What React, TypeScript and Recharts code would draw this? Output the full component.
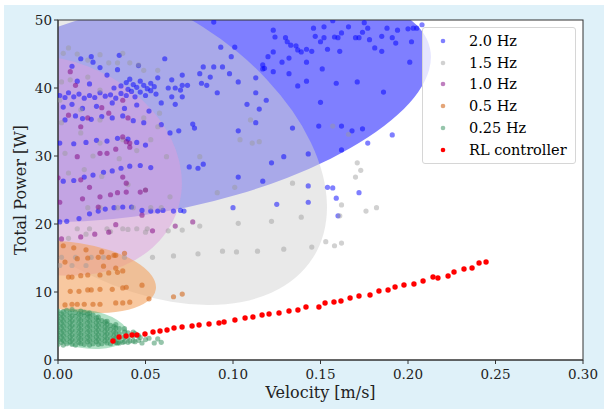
import React from "react";
import * as Recharts from "recharts";
import {
  ScatterChart,
  Scatter,
  XAxis,
  YAxis,
  CartesianGrid,
  Customized,
  Legend,
} from "recharts";

type Pt = [number, number];

// 2.0 Hz runs
const hz20: Pt[] = [
  [0.123, 48.5], [0.124, 47.5], [0.13, 47.4], [0.131, 46.8], [0.133, 46.3], [0.136, 46.2], [0.137, 45.6],
  [0.139, 45.3], [0.142, 45.7], [0.145, 45.4], [0.146, 48.8], [0.147, 47.6], [0.15, 46.8], [0.152, 49.0],
  [0.152, 47.4], [0.154, 45.7], [0.157, 49.9], [0.158, 47.5], [0.16, 47.4], [0.161, 45.4], [0.162, 48.1],
  [0.166, 49.0], [0.17, 47.4], [0.172, 47.4], [0.174, 48.2], [0.175, 49.6], [0.177, 48.8], [0.178, 47.1],
  [0.181, 45.9], [0.185, 45.4], [0.185, 47.6], [0.188, 48.8], [0.191, 47.4], [0.194, 48.5], [0.193, 46.6],
  [0.2, 48.7], [0.202, 46.8], [0.203, 48.8], [0.205, 48.8], [0.208, 49.3], [0.201, 43.8], [0.12, 44.6],
  [0.123, 45.3], [0.128, 43.8], [0.132, 44.4], [0.117, 43.4], [0.118, 42.9], [0.123, 42.4], [0.132, 42.1],
  [0.142, 43.8], [0.151, 42.8], [0.137, 40.3], [0.142, 41.0], [0.159, 40.7], [0.171, 40.9], [0.186, 39.4],
  [0.15, 37.9], [0.149, 34.4], [0.162, 34.4], [0.168, 33.7], [0.174, 34.0], [0.191, 33.1], [0.177, 31.9],
  [0.162, 30.9], [0.143, 30.3], [0.143, 25.6], [0.154, 25.4], [0.157, 25.3], [0.172, 24.6], [0.159, 23.8],
  [0.089, 49.7], [0.093, 46.0], [0.101, 46.0], [0.099, 44.6], [0.061, 44.3], [0.083, 43.1], [0.089, 43.1],
  [0.094, 43.1], [0.081, 42.1], [0.087, 41.6], [0.098, 42.1], [0.103, 40.9], [0.082, 40.7], [0.085, 40.4],
  [0.091, 39.3], [0.057, 41.5], [0.065, 41.2], [0.071, 41.9], [0.071, 40.4], [0.067, 40.0], [0.063, 40.0],
  [0.07, 39.7], [0.074, 40.4], [0.065, 38.7], [0.059, 37.8], [0.071, 38.7], [0.067, 37.6], [0.108, 37.6],
  [0.113, 39.3], [0.115, 36.9], [0.119, 38.2], [0.117, 42.8], [0.113, 41.5], [0.103, 33.7], [0.113, 34.9],
  [0.077, 34.7], [0.078, 34.1], [0.069, 33.7], [0.064, 33.4], [0.134, 34.1], [0.059, 34.6], [0.075, 28.4],
  [0.08, 28.2], [0.083, 28.8], [0.122, 29.0], [0.129, 29.9], [0.103, 26.9], [0.117, 26.3], [0.125, 22.9],
  [0.143, 23.2], [0.1, 22.4], [0.057, 21.9], [0.066, 21.9], [0.072, 21.9], [0.16, 21.2],
  [0.001, 38.9], [0.004, 38.6], [0.006, 39.3], [0.009, 38.7], [0.012, 39.1], [0.015, 38.5], [0.018, 38.9],
  [0.021, 38.6], [0.024, 39.3], [0.027, 38.8], [0.03, 39.0], [0.033, 38.5], [0.036, 39.2], [0.039, 38.9],
  [0.042, 39.5], [0.044, 38.7], [0.047, 39.4], [0.05, 38.9], [0.053, 39.6], [0.056, 39.1], [0.036, 40.3],
  [0.039, 40.8], [0.041, 41.3], [0.043, 40.5], [0.045, 40.1], [0.047, 41.0], [0.049, 40.4], [0.051, 39.9],
  [0.053, 40.7], [0.055, 40.2], [0.04, 39.8], [0.032, 40.0], [0.018, 40.6], [0.011, 41.0], [0.028, 41.9],
  [0.034, 42.7], [0.02, 43.8], [0.013, 44.3], [0.019, 44.6], [0.035, 44.8], [0.024, 43.0], [0.046, 43.3],
  [0.008, 43.2], [0.003, 37.2], [0.008, 37.6], [0.014, 37.0], [0.022, 37.3], [0.031, 37.8], [0.038, 37.0],
  [0.045, 37.5], [0.052, 36.6], [0.004, 35.3], [0.01, 35.9], [0.014, 35.5], [0.019, 35.4], [0.025, 35.8],
  [0.031, 35.6], [0.037, 35.9], [0.043, 35.2], [0.049, 34.9], [0.001, 31.9], [0.009, 31.8], [0.016, 32.0],
  [0.022, 32.3], [0.028, 32.2], [0.034, 32.6], [0.04, 32.5], [0.045, 32.0], [0.05, 31.6], [0.003, 26.3],
  [0.009, 26.4], [0.015, 26.9], [0.02, 27.2], [0.026, 27.6], [0.031, 27.8], [0.036, 28.2], [0.041, 28.5],
  [0.047, 28.6], [0.053, 28.3], [0.001, 20.3], [0.005, 20.4], [0.012, 20.8], [0.018, 21.5], [0.023, 21.9],
  [0.027, 22.2], [0.032, 22.4], [0.037, 22.5], [0.042, 22.5], [0.048, 22.0], [0.053, 21.9], [0.06, 22.0],
  [0.07, 22.0],
];

// 1.5 Hz runs
const hz15: Pt[] = [
  [0.003, 45.1], [0.006, 45.9], [0.011, 45.0], [0.017, 44.1], [0.024, 44.9], [0.029, 43.7], [0.034, 43.7],
  [0.037, 45.1], [0.041, 43.7], [0.046, 43.4], [0.049, 42.6], [0.057, 42.6], [0.017, 41.6], [0.007, 41.2],
  [0.024, 39.7], [0.002, 40.9], [0.001, 38.2], [0.002, 34.9], [0.013, 36.8], [0.024, 35.3], [0.049, 35.6],
  [0.058, 36.3], [0.057, 34.3], [0.013, 33.4], [0.024, 31.9], [0.037, 32.4], [0.053, 32.4], [0.062, 29.9],
  [0.081, 29.9], [0.091, 24.6], [0.104, 32.4], [0.11, 35.3], [0.111, 31.9], [0.115, 32.1], [0.101, 25.4],
  [0.134, 26.0], [0.157, 34.4], [0.166, 33.2], [0.171, 29.0], [0.173, 27.9], [0.17, 26.9], [0.162, 22.8],
  [0.176, 21.9], [0.182, 22.4], [0.161, 21.2], [0.139, 21.0], [0.122, 20.4], [0.103, 20.1], [0.071, 19.1],
  [0.081, 19.7], [0.063, 19.0], [0.066, 15.3], [0.08, 15.6], [0.094, 16.0], [0.102, 15.9], [0.114, 16.0],
  [0.129, 16.3], [0.145, 16.6], [0.153, 17.4], [0.158, 16.8], [0.162, 17.2], [0.054, 15.1],
  [0.017, 22.4], [0.024, 22.4], [0.034, 22.4], [0.043, 22.4], [0.053, 22.4], [0.059, 22.4],
  [0.011, 19.3], [0.018, 19.3], [0.028, 19.3], [0.037, 19.3], [0.045, 19.3], [0.051, 19.3],
  [0.002, 15.1], [0.01, 15.1], [0.019, 15.1], [0.026, 15.1], [0.038, 15.1], [0.001, 13.9], [0.008, 13.9],
  [0.016, 13.9], [0.006, 27.5], [0.015, 28.0], [0.025, 27.0], [0.04, 25.8], [0.05, 25.0], [0.064, 24.0],
  [0.004, 30.4], [0.02, 30.0], [0.035, 29.6], [0.045, 30.8], [0.006, 17.9], [0.016, 18.5], [0.03, 18.9],
  [0.04, 19.2], [0.05, 18.8],
];

// 1.0 Hz runs
const hz10: Pt[] = [
  [0.007, 42.4], [0.01, 40.4], [0.006, 36.0], [0.013, 34.3], [0.017, 35.6], [0.025, 37.1], [0.029, 36.3],
  [0.037, 38.2], [0.04, 35.6], [0.024, 30.4], [0.028, 30.4], [0.037, 32.8], [0.039, 32.1], [0.041, 31.3],
  [0.011, 29.9], [0.037, 26.9], [0.034, 24.6], [0.039, 24.7], [0.047, 24.7], [0.05, 25.0], [0.024, 24.0],
  [0.013, 26.5], [0.018, 25.4], [0.033, 31.0], [0.041, 31.9], [0.039, 26.0], [0.03, 24.3], [0.014, 23.7],
  [0.001, 23.2], [0.023, 22.5], [0.048, 21.3], [0.054, 19.0], [0.067, 19.7], [0.029, 18.8], [0.021, 18.5],
  [0.013, 18.1], [0.002, 17.8], [0.033, 19.9], [0.077, 20.3], [0.0, 26.8],
];

// 0.5 Hz runs
const hz05: Pt[] = [
  [0.003, 16.8], [0.009, 16.5], [0.016, 16.2], [0.025, 15.9], [0.032, 15.4], [0.038, 15.7],
  [0.004, 14.4], [0.011, 14.9], [0.017, 15.0], [0.023, 15.1], [0.029, 15.1], [0.033, 15.4], [0.026, 13.8],
  [0.033, 13.5], [0.006, 12.2], [0.008, 12.2], [0.013, 12.4], [0.017, 12.5], [0.024, 12.5], [0.029, 12.8],
  [0.034, 12.9], [0.037, 13.1], [0.007, 10.1], [0.012, 10.1], [0.017, 10.3], [0.019, 10.3], [0.024, 10.4],
  [0.031, 10.4], [0.037, 10.6], [0.039, 10.7], [0.048, 11.0], [0.004, 8.1], [0.008, 8.2], [0.011, 8.2],
  [0.015, 8.2], [0.02, 8.2], [0.024, 8.2], [0.033, 8.4], [0.037, 8.4], [0.041, 8.5], [0.052, 9.0],
  [0.066, 9.3], [0.071, 9.7],
];

// 0.25 Hz runs: velocity column -> power values
const hz025Columns: [number, number[]][] = [
  [0.0, [2.3, 3.0, 3.7, 4.4, 5.1, 5.8, 6.5, 7.2]],
  [0.002, [2.6, 3.3, 4.0, 4.7, 5.4, 6.1, 6.8]],
  [0.003, [2.2, 2.9, 3.6, 4.3, 5.0, 5.7, 6.4, 7.1]],
  [0.005, [2.4, 3.1, 3.8, 4.5, 5.2, 5.9, 6.6, 7.3]],
  [0.007, [2.7, 3.4, 4.1, 4.8, 5.5, 6.2, 6.9]],
  [0.008, [2.3, 3.0, 3.7, 4.4, 5.1, 5.8, 6.5, 7.4]],
  [0.01, [2.2, 2.9, 3.6, 4.3, 5.0, 5.7, 6.4, 7.0]],
  [0.012, [2.6, 3.3, 4.0, 4.7, 5.4, 6.1, 6.8]],
  [0.013, [2.4, 3.1, 3.8, 4.5, 5.2, 5.9, 6.6, 7.2]],
  [0.015, [2.3, 3.0, 3.7, 4.4, 5.1, 5.8, 6.5, 7.0]],
  [0.017, [2.7, 3.4, 4.1, 4.8, 5.5, 6.2, 6.8]],
  [0.018, [2.2, 2.9, 3.6, 4.3, 5.0, 5.7, 6.4, 6.9]],
  [0.02, [2.4, 3.1, 3.8, 4.5, 5.2, 5.9, 6.6]],
  [0.022, [2.7, 3.4, 4.1, 4.8, 5.5, 6.2]],
  [0.023, [2.3, 3.0, 3.7, 4.4, 5.1, 5.8, 6.3]],
  [0.025, [2.4, 3.1, 3.8, 4.5, 5.2, 5.8]],
  [0.027, [2.8, 3.5, 4.2, 4.9, 5.6]],
  [0.028, [2.5, 3.2, 3.9, 4.6, 5.3, 5.7]],
  [0.03, [2.4, 3.1, 3.8, 4.5, 5.1]],
  [0.032, [2.8, 3.5, 4.2, 4.9]],
  [0.033, [2.6, 3.3, 4.0, 4.7, 5.2]],
  [0.035, [2.5, 3.2, 3.9, 4.6]],
  [0.038, [2.7, 3.4, 4.1, 4.6]],
  [0.04, [2.6, 3.3, 4.0]],
  [0.043, [2.8, 3.5, 4.1]],
  [0.046, [2.9, 3.6]],
];
const hz025Tail: Pt[] = [
  [0.034, 2.5], [0.037, 2.6], [0.041, 2.8], [0.044, 2.7], [0.047, 3.3], [0.05, 3.0], [0.052, 3.2],
  [0.055, 2.5], [0.057, 3.1], [0.059, 2.6], [0.048, 2.5], [0.044, 3.9],
];

const rlController: Pt[] = [
  [0.0314, 2.79], [0.0349, 3.38], [0.0389, 3.53], [0.0423, 3.68], [0.0451, 3.68], [0.0497, 3.82],
  [0.0543, 4.12], [0.0583, 4.26], [0.0623, 4.41], [0.0663, 4.71], [0.0709, 4.85], [0.0766, 5.0],
  [0.0806, 5.15], [0.0863, 5.29], [0.092, 5.44], [0.0949, 5.59], [0.1011, 5.88], [0.1069, 6.18],
  [0.1114, 6.32], [0.1166, 6.62], [0.1206, 6.76], [0.1263, 6.91], [0.132, 7.21], [0.1371, 7.35],
  [0.1417, 7.79], [0.1491, 7.79], [0.1526, 8.38], [0.1577, 8.53], [0.1617, 8.68], [0.1669, 9.12],
  [0.172, 9.41], [0.1783, 9.56], [0.1834, 10.15], [0.1886, 10.29], [0.1926, 10.74], [0.1977, 11.03],
  [0.2034, 11.18], [0.2086, 11.62], [0.2143, 12.21], [0.2171, 12.06], [0.2229, 12.35], [0.2263, 12.94],
  [0.232, 13.38], [0.2366, 13.53], [0.2406, 14.26], [0.2446, 14.41],
];

// spread ellipses: centre, half extent along each axis, correlation (data units)
const ellipseCx = [0.0614, 0.0411, -0.0046, 0.0097, 0.0154];
const ellipseCy = [37.5, 32.1, 28.6, 12.2, 4.56];
const ellipseSx = [0.1517, 0.1126, 0.0754, 0.0463, 0.0246];
const ellipseSy = [17.2, 24.0, 16.2, 5.3, 2.94];
const ellipseRho = [0.41, -0.4, -0.16, -0.28, -0.25];
const ellipseFill = ["#0000ff", "#d3d3d3", "#dda0dd", "#f4a460", "#3cb371"];
const ellipseAlpha = [0.5, 0.5, 0.5, 0.6, 0.4];

const xTicks = [0, 0.05, 0.1, 0.15, 0.2, 0.25, 0.3];
const yTicks = [0, 10, 20, 30, 40, 50];

const W = 604;
const H = 409;
const MARGIN = { top: 20, right: 21, bottom: 9, left: 8 };
const Y_AXIS_W = 50;
const X_AXIS_H = 40;
const FONT = "'DejaVu Serif', serif";

const toRows = (pts: Pt[]) => pts.map(([v, p]) => ({ v, p }));
const hz025: Pt[] = [
  ...hz025Columns.flatMap(([v, ps]) => ps.map((p) => [v, p] as Pt)),
  ...hz025Tail,
];

const series = [
  { name: "2.0 Hz", data: hz20, color: "#0000ff", alpha: 0.5 },
  { name: "1.5 Hz", data: hz15, color: "#999999", alpha: 0.45 },
  { name: "1.0 Hz", data: hz10, color: "#800080", alpha: 0.5 },
  { name: "0.5 Hz", data: hz05, color: "#d2691e", alpha: 0.6 },
  { name: "0.25 Hz", data: hz025, color: "#2e8b57", alpha: 0.5 },
  { name: "RL controller", data: rlController, color: "#ff0000", alpha: 1 },
];

const usePlotBox = () => {
  const R = Recharts as any;
  const area = R.usePlotArea ? R.usePlotArea() : undefined;
  return {
    left: area?.x ?? MARGIN.left + Y_AXIS_W,
    top: area?.y ?? MARGIN.top,
    w: area?.width ?? W - MARGIN.left - MARGIN.right - Y_AXIS_W,
    h: area?.height ?? H - MARGIN.top - MARGIN.bottom - X_AXIS_H,
  };
};

const Ellipses = () => {
  const { left, top, w, h } = usePlotBox();
  const sx = (v: number) => left + (v / 0.3) * w;
  const sy = (p: number) => top + (1 - p / 50) * h;
  return (
    <g>
      <defs>
        <clipPath id="plotClip">
          <rect x={left} y={top} width={w} height={h} />
        </clipPath>
      </defs>
      <g clipPath="url(#plotClip)">
        {ellipseCx.map((cxv, i) => {
          const X = sx(cxv);
          const Y = sy(ellipseCy[i]);
          const ex = (ellipseSx[i] / 0.3) * w;
          const ey = (ellipseSy[i] / 50) * h;
          const k = -ellipseRho[i] * ex * ey;
          const tr = ex * ex + ey * ey;
          const det = ex * ex * ey * ey - k * k;
          const d = Math.sqrt(Math.max((tr * tr) / 4 - det, 0));
          const l1 = tr / 2 + d;
          const l2 = tr / 2 - d;
          const ang = (Math.atan2(l1 - ex * ex, k) * 180) / Math.PI;
          return (
            <ellipse
              key={i}
              cx={X}
              cy={Y}
              rx={Math.sqrt(l1)}
              ry={Math.sqrt(Math.max(l2, 0))}
              transform={`rotate(${ang} ${X} ${Y})`}
              fill={ellipseFill[i]}
              fillOpacity={ellipseAlpha[i]}
            />
          );
        })}
      </g>
      <rect x={left} y={top} width={w} height={h} fill="none" stroke="#333" strokeWidth={1} />
    </g>
  );
};

const LegendBox = () => (
  <div
    style={{
      background: "rgba(255,255,255,0.8)",
      border: "1px solid #d6d6d6",
      borderRadius: 3,
      padding: "2px 0",
      fontFamily: FONT,
      fontSize: 14.5,
      color: "#000",
    }}
  >
    {series.map((s) => (
      <div key={s.name} style={{ display: "flex", alignItems: "center", height: 21.8 }}>
        <svg width={46} height={10}>
          <circle cx={20} cy={5} r={2.3} fill={s.color} fillOpacity={s.alpha} />
        </svg>
        <span>{s.name}</span>
      </div>
    ))}
  </div>
);

export default function App() {
  return (
    <div
      style={{
        position: "absolute",
        left: 0,
        top: 0,
        width: W,
        height: H,
        background: "#fff",
        fontFamily: FONT,
      }}
    >
      <div style={{ position: "absolute", left: 4, top: 5, width: W - 4, height: H - 5, background: "#dff1f9" }} />
      <div style={{ position: "absolute", left: 0, top: 0 }}>
        <ScatterChart width={W} height={H} margin={MARGIN} style={{ fontFamily: FONT }}>
          <CartesianGrid fill="#ffffff" horizontal={false} vertical={false} />
          <Customized component={<Ellipses />} />
          <XAxis
            type="number"
            dataKey="v"
            domain={[0, 0.3]}
            ticks={xTicks}
            allowDataOverflow
            tickFormatter={(t: number) => t.toFixed(2)}
            height={X_AXIS_H}
            tickSize={4}
            tickMargin={5}
            stroke="#333"
            tick={{ fill: "#222", fontSize: 13.5, fontFamily: FONT }}
            label={(props: any) => (
              <text
                x={props.viewBox.x + props.viewBox.width / 2}
                y={props.viewBox.y + 32}
                textAnchor="middle"
                dominantBaseline="central"
                fontSize={16}
                fontFamily={FONT}
                fill="#222"
              >
                Velocity [m/s]
              </text>
            )}
          />
          <YAxis
            type="number"
            dataKey="p"
            domain={[0, 50]}
            ticks={yTicks}
            allowDataOverflow
            width={Y_AXIS_W}
            tickSize={4}
            stroke="#333"
            tick={{ fill: "#222", fontSize: 13.5, fontFamily: FONT }}
            label={(props: any) => (
              <text
                x={props.viewBox.x + 12}
                y={props.viewBox.y + props.viewBox.height / 2}
                textAnchor="middle"
                dominantBaseline="central"
                transform={`rotate(-90 ${props.viewBox.x + 12} ${props.viewBox.y + props.viewBox.height / 2})`}
                fontSize={16}
                fontFamily={FONT}
                fill="#222"
              >
                Total Power [W]
              </text>
            )}
          />
          {series.map((s) => (
            <Scatter
              key={s.name}
              name={s.name}
              data={toRows(s.data)}
              isAnimationActive={false}
              shape={(p: any) => (
                <circle
                  cx={p.cx}
                  cy={p.cy}
                  r={s.name === "RL controller" ? 2.7 : 2.6}
                  fill={s.color}
                  fillOpacity={s.alpha}
                />
              )}
            />
          ))}
          <Legend
            layout="horizontal"
            verticalAlign="middle"
            align="center"
            content={() => <LegendBox />}
            wrapperStyle={{ left: 422, top: 27, width: 154 }}
          />
        </ScatterChart>
      </div>
    </div>
  );
}
